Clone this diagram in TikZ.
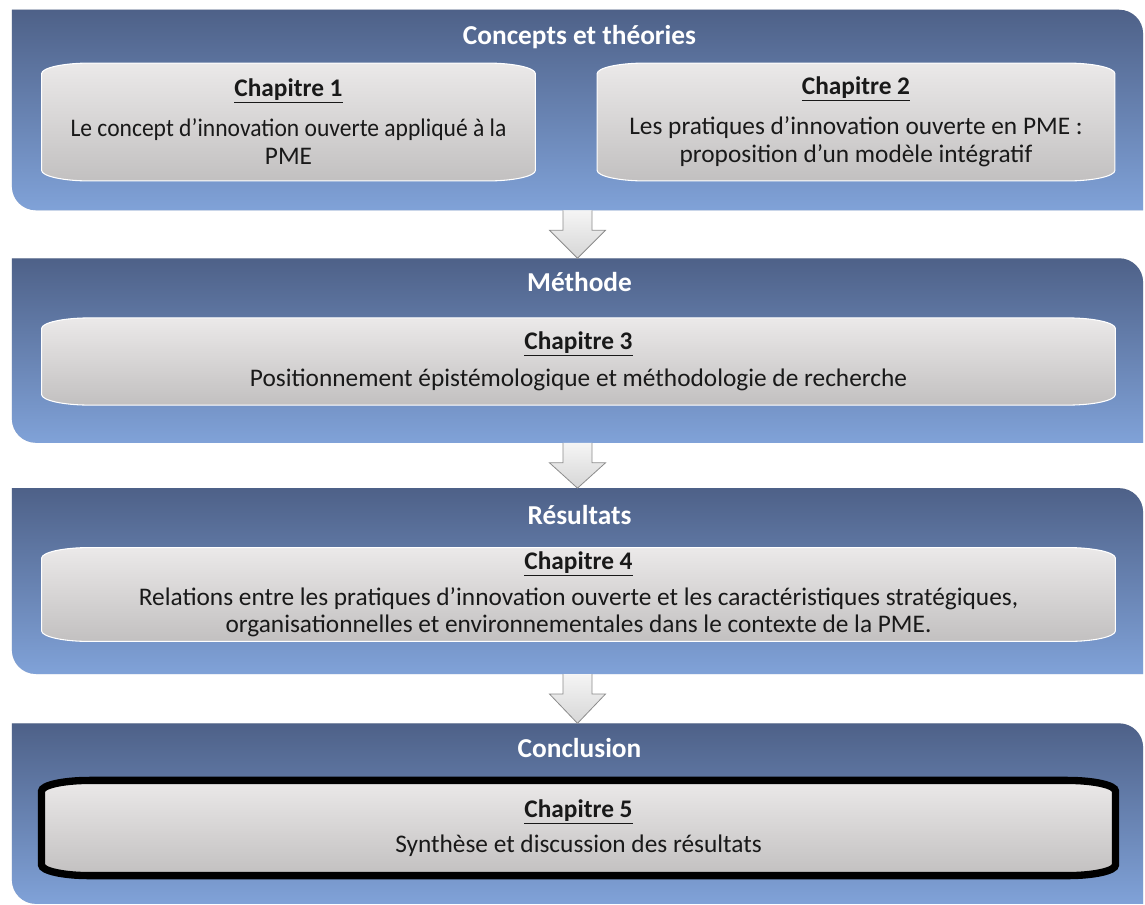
\documentclass[tikz,border=0pt]{standalone}
\usepackage{fontspec}
\setmainfont{Carlito}
\usetikzlibrary{positioning, calc, backgrounds}
\definecolor{bandhaut}{RGB}{78,97,136}
\definecolor{bandbas}{RGB}{128,162,216}
\definecolor{boitehaut}{RGB}{235,233,233}
\definecolor{boitebas}{RGB}{194,192,192}
\definecolor{textegris}{RGB}{25,25,25}
\definecolor{flechebord}{RGB}{140,140,140}

\pgfdeclarelayer{fond}
\pgfdeclarelayer{boites}
\pgfsetlayers{fond,boites,main}

% forme des bandes : coins arrondis en diagonale
\newcommand{\formeband}[1]{(#1.north west) -- ([xshift=-18pt]#1.north east)
  arc[start angle=90, end angle=0, radius=18pt] -- (#1.south east)
  -- ([xshift=18pt]#1.south west) arc[start angle=270, end angle=180, radius=18pt] -- cycle}
% forme des boites : coins elliptiques
\newcommand{\formeboite}[1]{([xshift=36pt]#1.north west) -- ([xshift=-36pt]#1.north east)
  arc[start angle=90, end angle=0, x radius=36pt, y radius=8pt] -- ([yshift=8pt]#1.south east)
  arc[start angle=0, end angle=-90, x radius=36pt, y radius=8pt] -- ([xshift=36pt]#1.south west)
  arc[start angle=270, end angle=180, x radius=36pt, y radius=8pt] -- ([yshift=-8pt]#1.north west)
  arc[start angle=180, end angle=90, x radius=36pt, y radius=8pt] -- cycle}

\tikzset{
  band/.style={rectangle, minimum width=848pt, inner sep=0pt},
  titre/.style={text=white, font=\fontsize{20.5}{24}\selectfont\bfseries},
  boite/.style={rectangle, inner sep=0pt, align=center, text=textegris,
    font=\fontsize{19}{21}\selectfont},
  fleche/.style={top color=gray!8, bottom color=gray!32, draw=flechebord, line width=0.6pt}
}

\begin{document}
\begin{tikzpicture}[x=0.75pt, y=-0.75pt]
  \useasboundingbox (0,0) rectangle (1145,904);

  % bandes
  \node[band, minimum height=150pt] (concepts) at (577.5,110) {};
  \node[band, minimum height=138pt, below=36pt of concepts] (methode) {};
  \node[band, minimum height=139pt, below=34pt of methode] (resultats) {};
  \node[band, minimum height=135pt, below=37pt of resultats] (conclusion) {};

  \begin{pgfonlayer}{fond}
    \foreach \b in {concepts, methode, resultats, conclusion} {
      \fill[gray!45, opacity=0.6, yshift=-2.5pt, xshift=1pt] \formeband{\b};
      \shade[top color=bandhaut, bottom color=bandbas] \formeband{\b};
    }
  \end{pgfonlayer}

  \node[titre] (t1) at ($(concepts.north)+(2,27)$) {Concepts et théories};
  \node[titre] (t2) at ($(methode.north)+(2,24)$) {Méthode};
  \node[titre] (t3) at ($(resultats.north)+(2,27)$) {Résultats};
  \node[titre] (t4) at ($(conclusion.north)+(2,25)$) {Conclusion};

  % chapitres
  \node[boite, minimum width=370pt, minimum height=88pt] (chap1) at (288.5,122)
    {\textbf{\underline{Chapitre 1}}\\[9pt]\scalebox{0.93}[1]{Le concept d’innovation ouverte appliqué à la}\\PME};
  \node[boite, minimum width=388pt, minimum height=88pt] (chap2) at (856,122)
    {\textbf{\underline{Chapitre 2}}\\[9pt]Les pratiques d’innovation ouverte en PME :\\proposition d’un modèle intégratif};
  \node[boite, minimum width=805pt, minimum height=65pt] (chap3) at (578.5,361.5)
    {\textbf{\underline{Chapitre 3}}\\[7pt]Positionnement épistémologique et méthodologie de recherche};
  \node[boite, minimum width=805pt, minimum height=70pt, font=\fontsize{19}{20.5}\selectfont] (chap4) at (578.5,594.5)
    {\textbf{\underline{Chapitre 4}}\\[6pt]Relations entre les pratiques d’innovation ouverte et les caractéristiques stratégiques,\\organisationnelles et environnementales dans le contexte de la PME.};
  \node[boite, minimum width=805pt, minimum height=71pt] (chap5) at (578.5,828)
    {\textbf{\underline{Chapitre 5}}\\[5pt]Synthèse et discussion des résultats};

  \begin{pgfonlayer}{boites}
    \foreach \c in {chap1, chap2, chap3, chap4} {
      \shade[top color=boitehaut, middle color=boitehaut!95!gray, bottom color=boitebas] \formeboite{\c};
      \draw[white, line width=0.8pt] \formeboite{\c};
    }
    \shade[top color=boitehaut, middle color=boitehaut!95!gray, bottom color=boitebas] \formeboite{chap5};
    \draw[black, line width=5.5pt] \formeboite{chap5};
  \end{pgfonlayer}

  % fleches
  \foreach \a/\b in {concepts/methode, methode/resultats, resultats/conclusion} {
    \path[fleche] ($(\a.south)+(-14.5,0)$) -- ($(\a.south)+(-14.5,20)$) -- ($(\a.south)+(-28,20)$)
      -- ($(\b.north)+(0,0)$) -- ($(\a.south)+(28,20)$) -- ($(\a.south)+(14.5,20)$)
      -- ($(\a.south)+(14.5,0)$);
  }
\end{tikzpicture}
\end{document}
